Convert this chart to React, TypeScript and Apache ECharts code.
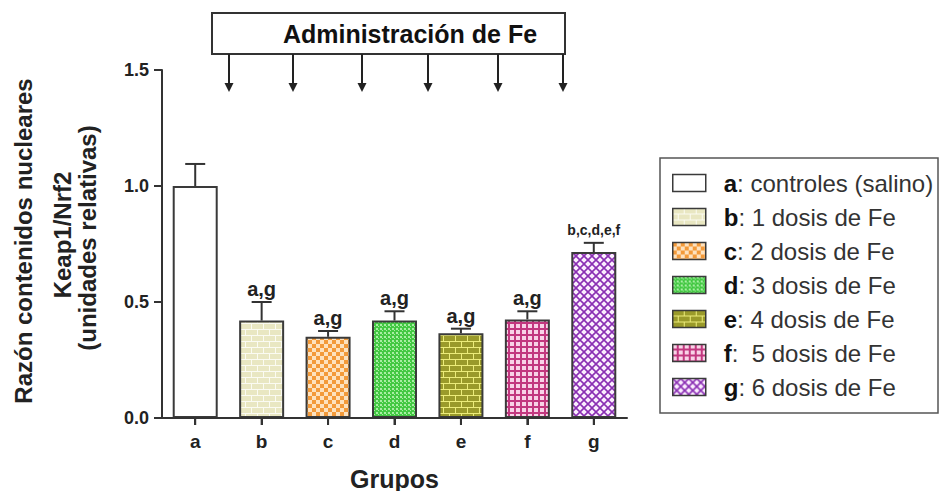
import React, { useEffect, useRef } from "react";
import * as echarts from "echarts";

const categories = ["a", "b", "c", "d", "e", "f", "g"];
const means = [1.0, 0.42, 0.35, 0.42, 0.365, 0.425, 0.715];
const upperErrors = [0.095, 0.08, 0.025, 0.04, 0.02, 0.035, 0.04];
const sigLabels = ["", "a,g", "a,g", "a,g", "a,g", "a,g", "b,c,d,e,f"];
const legendNames = [
  "a: controles (salino)",
  "b: 1 dosis de Fe",
  "c: 2 dosis de Fe",
  "d: 3 dosis de Fe",
  "e: 4 dosis de Fe",
  "f:  5 dosis de Fe",
  "g: 6 dosis de Fe",
];
const yTicks = [0, 0.5, 1.0, 1.5];
const arrowXs = [229, 293, 362, 428, 498, 563];

const FONT = "'Liberation Sans', Arial, Helvetica, sans-serif";
const AXIS = "#333";

function makePattern(w: number, h: number, draw: (c: CanvasRenderingContext2D) => void) {
  const cv = document.createElement("canvas");
  cv.width = w;
  cv.height = h;
  const ctx = cv.getContext("2d")!;
  draw(ctx);
  return { image: cv.toDataURL(), imageWidth: w, imageHeight: h, repeat: "repeat" } as any;
}

function brick(bg: string, fg: string) {
  return makePattern(12, 12, (c) => {
    c.fillStyle = bg;
    c.fillRect(0, 0, 12, 12);
    c.fillStyle = fg;
    c.fillRect(0, 0, 11, 5);
    c.fillRect(6, 6, 11, 5);
    c.fillRect(-6, 6, 11, 5);
  });
}

function buildFills() {
  const white = "#ffffff";
  const b = brick("#fbfbf2", "#e9e7c2");
  const c = makePattern(8, 8, (x) => {
    x.fillStyle = "#fde2bf";
    x.fillRect(0, 0, 8, 8);
    x.fillStyle = "#f39a3a";
    x.fillRect(0, 0, 4, 4);
    x.fillRect(4, 4, 4, 4);
  });
  const d = makePattern(4, 4, (x) => {
    x.fillStyle = "#43c843";
    x.fillRect(0, 0, 4, 4);
    x.fillStyle = "#a9eea4";
    x.fillRect(0, 0, 2, 2);
    x.fillRect(2, 2, 1, 1);
  });
  const e = brick("#ecec7a", "#9a9a2a");
  const f = makePattern(6, 6, (x) => {
    x.fillStyle = "#f8d3e7";
    x.fillRect(0, 0, 6, 6);
    x.fillStyle = "#c2387f";
    x.fillRect(4, 0, 2, 6);
    x.fillRect(0, 4, 6, 2);
  });
  const g = makePattern(8, 8, (x) => {
    x.fillStyle = "#fbeefe";
    x.fillRect(0, 0, 8, 8);
    x.strokeStyle = "#8a2fb3";
    x.lineWidth = 1.6;
    x.beginPath();
    x.moveTo(-1, -1);
    x.lineTo(9, 9);
    x.moveTo(9, -1);
    x.lineTo(-1, 9);
    x.stroke();
  });
  return [white, b, c, d, e, f, g];
}

export default function App() {
  const ref = useRef<HTMLDivElement>(null);

  useEffect(() => {
    if (!ref.current) return;
    const chart = echarts.init(ref.current, undefined, { renderer: "svg" });
    const fills = buildFills();

    const barSeries = legendNames.map((name, i) => ({
      type: "bar",
      name,
      barWidth: 45,
      barGap: "-100%",
      data: categories.map((_, j) => (j === i ? means[j] : "-")),
      itemStyle: { color: fills[i], borderColor: "#3a3a3a", borderWidth: 2 },
      z: 2,
    }));

    const errData = categories.map((_, i) => [i, means[i], means[i] + upperErrors[i]]);

    const option: any = {
      animation: false,
      grid: { left: 162, right: 313, top: 70, bottom: 73, containLabel: false, outerBoundsMode: "none" },
      xAxis: {
        type: "category",
        data: categories,
        axisLine: { show: true, onZero: false, lineStyle: { color: AXIS, width: 2 } },
        axisTick: { show: true, alignWithLabel: true, length: 7, lineStyle: { color: AXIS, width: 2 } },
        axisLabel: { color: "#222", fontFamily: FONT, fontWeight: "bold", fontSize: 19, margin: 14 },
        name: "Grupos",
        nameLocation: "middle",
        nameGap: 48,
        nameTextStyle: { color: "#222", fontFamily: FONT, fontWeight: "bold", fontSize: 25 },
      },
      yAxis: {
        type: "value",
        min: 0,
        max: 1.5,
        interval: 0.5,
        axisLine: { show: true, onZero: false, lineStyle: { color: AXIS, width: 2 } },
        axisTick: { show: true, length: 8, lineStyle: { color: AXIS, width: 2 } },
        splitLine: { show: false },
        axisLabel: {
          color: "#222",
          fontFamily: FONT,
          fontWeight: "bold",
          fontSize: 18,
          margin: 13,
          formatter: (v: number) => v.toFixed(1),
        },
      },
      legend: {
        orient: "vertical",
        left: 667,
        top: 166,
        itemWidth: 33,
        itemHeight: 17,
        itemGap: 10,
        icon: "rect",
        data: legendNames,
        selectedMode: false,
        itemStyle: { borderWidth: 1.5 },
        formatter: (name: string) => {
          const idx = name.indexOf(":");
          return `{b|${name.slice(0, idx)}}{r|${name.slice(idx)}}`;
        },
        textStyle: {
          fontFamily: FONT,
          fontSize: 24,
          color: "#333",
          rich: {
            b: { fontFamily: FONT, fontSize: 24, fontWeight: "bold", color: "#111", lineHeight: 25, padding: [0, 0, 0, 13] },
            r: { fontFamily: FONT, fontSize: 24, color: "#333", lineHeight: 25 },
          },
        },
      },
      graphic: [
        { type: "rect", shape: { x: 660, y: 158, width: 278, height: 255 }, style: { fill: "none", stroke: "#555", lineWidth: 1.5 }, z: 0 },
        { type: "rect", shape: { x: 212, y: 13, width: 353, height: 41 }, style: { fill: "#fff", stroke: AXIS, lineWidth: 2 } },
        {
          type: "text",
          x: 410,
          y: 34,
          style: { text: "Administración de Fe", font: `bold 25px ${FONT}`, fill: "#111", align: "center", verticalAlign: "middle" },
        },
        ...arrowXs.flatMap((x) => [
          { type: "line", shape: { x1: x, y1: 54, x2: x, y2: 85 }, style: { stroke: "#222", lineWidth: 2 } },
          { type: "polygon", shape: { points: [[x - 4.5, 83], [x + 4.5, 83], [x, 92]] }, style: { fill: "#222" } },
        ]),
        {
          type: "text",
          x: 23,
          y: 241,
          rotation: Math.PI / 2,
          style: { text: "Razón contenidos nucleares", font: `bold 24px ${FONT}`, fill: "#222", align: "center", verticalAlign: "middle" },
        },
        {
          type: "text",
          x: 62,
          y: 235,
          rotation: Math.PI / 2,
          style: { text: "Keap1/Nrf2", font: `bold 24px ${FONT}`, fill: "#222", align: "center", verticalAlign: "middle" },
        },
        {
          type: "text",
          x: 87,
          y: 238,
          rotation: Math.PI / 2,
          style: { text: "(unidades relativas)", font: `bold 24px ${FONT}`, fill: "#222", align: "center", verticalAlign: "middle" },
        },
      ],
      series: [
        ...barSeries,
        {
          type: "custom",
          name: "err",
          data: errData,
          z: 5,
          clip: false,
          renderItem: (params: any, api: any) => {
            const i = api.value(0);
            const base = api.coord([i, api.value(1)]);
            const top = api.coord([i, api.value(2)]);
            const zero = api.coord([i, 0]);
            const cx = base[0];
            const label = sigLabels[i];
            const small = label.length > 4;
            const st = { stroke: "#333", lineWidth: 2 };
            const children: any[] = [
              { type: "line", shape: { x1: cx, y1: base[1], x2: cx, y2: top[1] }, style: st },
              { type: "line", shape: { x1: cx - 10, y1: top[1], x2: cx + 10, y2: top[1] }, style: st },
              { type: "line", shape: { x1: cx, y1: zero[1], x2: cx, y2: zero[1] + 7 }, style: st },
            ];
            if (i === 0) {
              const top15 = api.coord([0, 1.5]);
              const leftX = cx - api.size([1, 0])[0] / 2;
              const rightX = leftX + api.size([1, 0])[0] * categories.length;
              children.push({ type: "line", shape: { x1: leftX, y1: top15[1], x2: leftX, y2: zero[1] }, style: st });
              children.push({ type: "line", shape: { x1: leftX, y1: zero[1], x2: rightX, y2: zero[1] }, style: st });
              yTicks.forEach((v) => {
                const p = api.coord([0, v]);
                children.push({ type: "line", shape: { x1: leftX - 8, y1: p[1], x2: leftX, y2: p[1] }, style: st });
              });
            }
            if (label) {
              children.push({
                type: "text",
                x: cx,
                y: top[1] - (small ? 6 : 3),
                style: {
                  text: label,
                  fontFamily: FONT,
                  fontWeight: "bold",
                  fontSize: small ? 14 : 20,
                  fill: "#222",
                  align: "center",
                  verticalAlign: "bottom",
                },
              });
            }
            return { type: "group", children };
          },
        },
      ],
    };

    chart.setOption(option);
    return () => chart.dispose();
  }, []);

  return (
    <div
      ref={ref}
      style={{ position: "fixed", left: 0, top: 0, width: 940, height: 491, background: "#fff" }}
    />
  );
}
